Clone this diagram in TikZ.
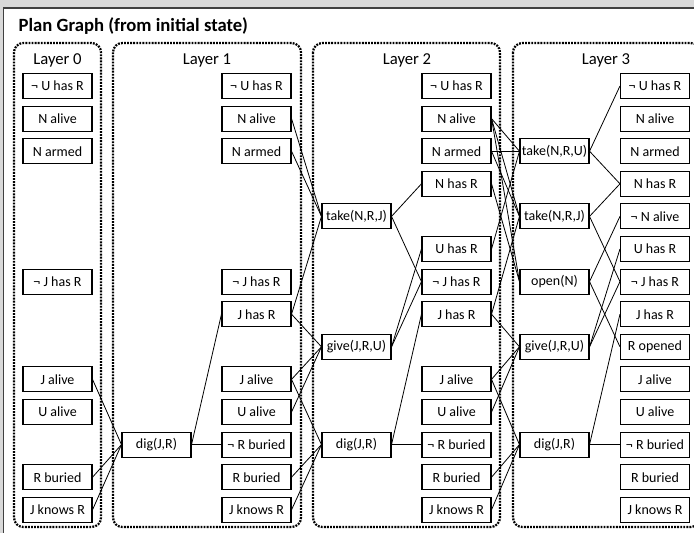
\documentclass[tikz,border=0pt]{standalone}
\usepackage{fontspec}
\setmainfont{Carlito}
\usepackage{tikz}
\definecolor{panelgray}{HTML}{D9D9D9}
\tikzset{
  fact/.style={draw,line width=0.8pt,minimum width=51.75pt,minimum height=18.75pt,inner sep=0pt,font=\fontsize{10.5}{12}\selectfont},
  layerbox/.style={line width=1.7pt,dash pattern=on 1.4pt off 0.9pt,rounded corners=7pt},
  layername/.style={anchor=base,font=\fontsize{12.5}{14}\selectfont},
  link/.style={line width=0.6pt}
}
% node at a given x and row number
\newcommand{\fact}[4]{\node[fact] (#1) at (#2,{86+(#3-1)*32.6}) {#4};}

\begin{document}
\begin{tikzpicture}[x=0.75pt,y=-0.75pt]
  \clip (0,0) rectangle (694,533);
  \fill[panelgray] (0,0) rectangle (694,533);
  \draw[fill=white,draw=black!75,line width=0.8pt] (3.5,8) rectangle (710,545);
  \node[anchor=base west,font=\bfseries\fontsize{14}{16}\selectfont] (title) at (14,31) {Plan Graph (from initial state)};

  \draw[layerbox] (14,43) rectangle (101,527);
  \draw[layerbox] (113,43) rectangle (301,527);
  \draw[layerbox] (313,43) rectangle (500,527);
  \draw[layerbox] (513,43) rectangle (700,527);
  \node[layername] (ln0) at (57.5,64) {Layer 0};
  \node[layername] (ln1) at (207,64) {Layer 1};
  \node[layername] (ln2) at (407,64) {Layer 2};
  \node[layername] (ln3) at (606,64) {Layer 3};

  % layer 0
  \foreach \r/\t in {1/¬ U has R,2/N alive,3/N armed,7/¬ J has R,10/J alive,11/U alive,13/R buried,14/J knows R}
    {\fact{f0-\r}{57.5}{\r}{\t}}
  % layer 1
  \fact{a1-12}{156.5}{12}{dig(J,R)}
  \foreach \r/\t in {1/¬ U has R,2/N alive,3/N armed,7/¬ J has R,8/J has R,10/J alive,11/U alive,12/¬ R buried,13/R buried,14/J knows R}
    {\fact{f1-\r}{256.5}{\r}{\t}}
  % layer 2
  \foreach \r/\t in {5/{take(N,R,J)},9/{give(J,R,U)},12/{dig(J,R)}}
    {\fact{a2-\r}{356.5}{\r}{\t}}
  \foreach \r/\t in {1/¬ U has R,2/N alive,3/N armed,4/N has R,6/U has R,7/¬ J has R,8/J has R,10/J alive,11/U alive,12/¬ R buried,13/R buried,14/J knows R}
    {\fact{f2-\r}{456.5}{\r}{\t}}
  % layer 3
  \foreach \r/\t in {3/{take(N,R,U)},5/{take(N,R,J)},7/{open(N)},9/{give(J,R,U)},12/{dig(J,R)}}
    {\fact{a3-\r}{554.5}{\r}{\t}}
  \foreach \r/\t in {1/¬ U has R,2/N alive,3/N armed,4/N has R,5/¬ N alive,6/U has R,7/¬ J has R,8/J has R,9/R opened,10/J alive,11/U alive,12/¬ R buried,13/R buried,14/J knows R}
    {\fact{f3-\r}{655}{\r}{\t}}

  \foreach \a/\b in {f0-10/a1-12,f0-13/a1-12,f0-14/a1-12,a1-12/f1-8,a1-12/f1-12,
      f1-2/a2-5,f1-3/a2-5,f1-8/a2-5,f1-8/a2-9,f1-10/a2-9,f1-11/a2-9,f1-10/a2-12,f1-13/a2-12,f1-14/a2-12,
      a2-5/f2-4,a2-5/f2-7,a2-9/f2-6,a2-9/f2-7,a2-12/f2-8,a2-12/f2-12,
      f2-2/a3-3,f2-3/a3-3,f2-6/a3-3,f2-2/a3-5,f2-3/a3-5,f2-8/a3-5,f2-2/a3-7,f2-4/a3-7,
      f2-8/a3-9,f2-10/a3-9,f2-11/a3-9,f2-10/a3-12,f2-13/a3-12,f2-14/a3-12,
      a3-3/f3-1,a3-3/f3-4,a3-5/f3-4,a3-5/f3-7,a3-7/f3-5,a3-7/f3-9,a3-9/f3-6,a3-9/f3-7,a3-12/f3-8,a3-12/f3-12}
    \draw[link] (\a.east) -- (\b.west);
\end{tikzpicture}
\end{document}
